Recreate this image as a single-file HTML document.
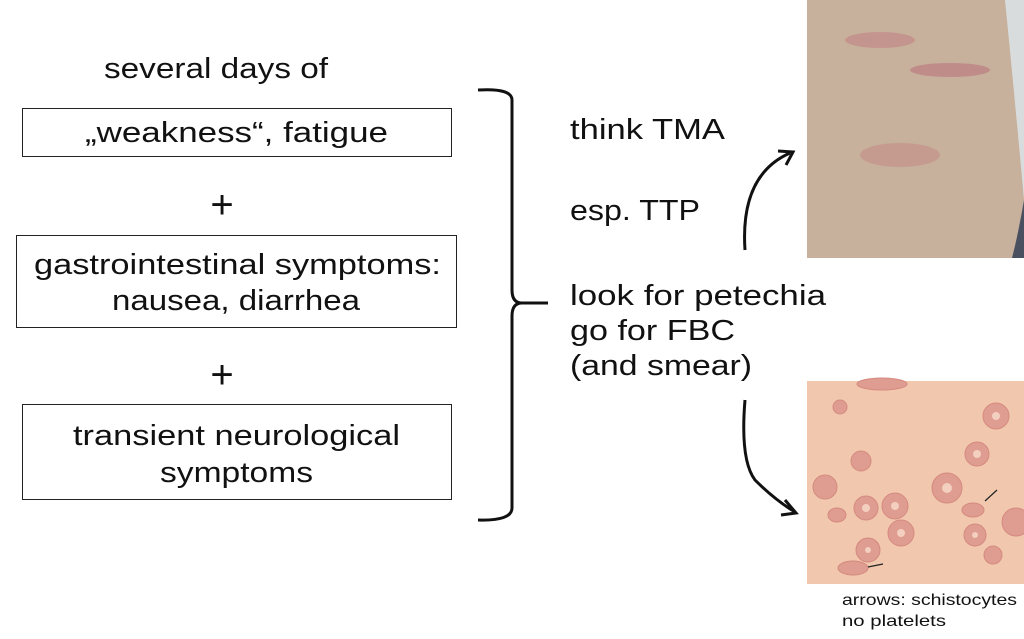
<!DOCTYPE html>
<html><head><style>
body{margin:0;background:#fff;}
svg{display:block}
text{font-family:"Liberation Sans",sans-serif;fill:#111;}
</style></head><body>
<svg width="1024" height="639" viewBox="0 0 1024 639">
<text x="104" y="78" font-size="29" textLength="224" lengthAdjust="spacingAndGlyphs">several days of</text>
<rect x="22.5" y="108.5" width="429" height="48" fill="none" stroke="#222" stroke-width="1"/>
<text x="85" y="142" font-size="29" textLength="303" lengthAdjust="spacingAndGlyphs">„weakness“, fatigue</text>
<text x="222" y="218" font-size="40" text-anchor="middle">+</text>
<rect x="16.5" y="235.5" width="440" height="92" fill="none" stroke="#222" stroke-width="1"/>
<text x="34" y="274" font-size="29" textLength="407" lengthAdjust="spacingAndGlyphs">gastrointestinal symptoms:</text>
<text x="112" y="310" font-size="29" textLength="248" lengthAdjust="spacingAndGlyphs">nausea, diarrhea</text>
<text x="222" y="388" font-size="40" text-anchor="middle">+</text>
<rect x="22.5" y="404.5" width="429" height="95" fill="none" stroke="#222" stroke-width="1"/>
<text x="73" y="445" font-size="29" textLength="327" lengthAdjust="spacingAndGlyphs">transient neurological</text>
<text x="160" y="482" font-size="29" textLength="153" lengthAdjust="spacingAndGlyphs">symptoms</text>
<path d="M478 90 Q512 88 512 100 L512 290 Q512 303 522 303 L548 303 M522 303 Q512 303 512 316 L512 508 Q512 521 478 520" fill="none" stroke="#111" stroke-width="3"/>
<text x="570" y="139" font-size="29" textLength="155" lengthAdjust="spacingAndGlyphs">think TMA</text>
<text x="570" y="220" font-size="29" textLength="130" lengthAdjust="spacingAndGlyphs">esp. TTP</text>
<text x="570" y="305" font-size="29" textLength="256" lengthAdjust="spacingAndGlyphs">look for petechia</text>
<text x="570" y="340" font-size="29" textLength="165" lengthAdjust="spacingAndGlyphs">go for FBC</text>
<text x="570" y="375" font-size="29" textLength="182" lengthAdjust="spacingAndGlyphs">(and smear)</text>
<rect x="807" y="0" width="217" height="258" fill="#c8b19c"/>
<ellipse cx="880" cy="40" rx="35" ry="8" fill="#c07a80" opacity="0.5"/>
<ellipse cx="950" cy="70" rx="40" ry="7" fill="#b86878" opacity="0.5"/>
<ellipse cx="900" cy="155" rx="40" ry="12" fill="#c07a80" opacity="0.4"/>
<path d="M1005 0 L1024 0 L1024 200 Q1015 100 1005 0Z" fill="#d8dcdc"/>
<path d="M1024 200 Q1018 235 1012 258 L1024 258Z" fill="#4a5060"/>
<path d="M745 250 Q740 175 790 153" fill="none" stroke="#111" stroke-width="3"/>
<path d="M778 151 L793 152 L786 165" fill="none" stroke="#111" stroke-width="3"/>
<rect x="807" y="381" width="217" height="203" fill="#f1c8ae"/>
<g fill="#df9c90" stroke="#d58a80" stroke-width="1">
<circle cx="840" cy="407" r="7"/><circle cx="996" cy="416" r="13"/><circle cx="977" cy="454" r="12"/>
<circle cx="947" cy="488" r="15"/><circle cx="861" cy="461" r="10"/><circle cx="825" cy="487" r="12"/>
<circle cx="866" cy="508" r="12"/><circle cx="895" cy="506" r="13"/><circle cx="901" cy="533" r="13"/>
<circle cx="868" cy="550" r="12"/><circle cx="975" cy="535" r="11"/><circle cx="1016" cy="522" r="14"/>
<circle cx="993" cy="555" r="9"/><ellipse cx="837" cy="515" rx="9" ry="7"/><ellipse cx="973" cy="510" rx="11" ry="7"/>
<ellipse cx="853" cy="568" rx="15" ry="7"/><ellipse cx="882" cy="384" rx="25" ry="6"/>
</g>
<g fill="#f3cfc0"><circle cx="996" cy="416" r="4"/><circle cx="977" cy="454" r="4"/><circle cx="947" cy="488" r="5"/><circle cx="866" cy="508" r="4"/><circle cx="895" cy="506" r="4"/><circle cx="901" cy="533" r="4"/><circle cx="975" cy="535" r="3"/><circle cx="868" cy="550" r="3"/></g>
<path d="M997 490 L985 501 M868 567 L883 564" stroke="#222" stroke-width="1.2"/>
<path d="M745 400 Q740 460 755 480 Q775 500 795 512" fill="none" stroke="#111" stroke-width="3"/>
<path d="M785 500 L796 513 L781 515" fill="none" stroke="#111" stroke-width="3"/>
<text x="842" y="605" font-size="16" textLength="175" lengthAdjust="spacingAndGlyphs">arrows: schistocytes</text>
<text x="842" y="626" font-size="16" textLength="104" lengthAdjust="spacingAndGlyphs">no platelets</text>
</svg>
</body></html>
